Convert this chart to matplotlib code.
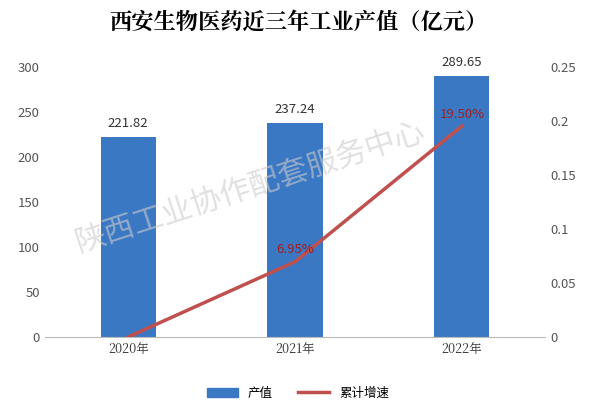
import matplotlib
matplotlib.use("Agg")
import matplotlib.pyplot as plt
from matplotlib.patches import Patch
from matplotlib.lines import Line2D

plt.rcParams['font.family'] = ['Noto Sans CJK SC', 'DejaVu Sans']

years = ["2020年", "2021年", "2022年"]
output = [221.82, 237.24, 289.65]
growth = [0.0, 0.0695, 0.195]
growth_labels = ["", "6.95%", "19.50%"]

fig = plt.figure(figsize=(5.96, 4.16), dpi=100)
ax = fig.add_axes([0.075, 0.19, 0.84, 0.65])
x = range(len(years))
ax.bar(x, output, width=0.33, color="#3B78C3", label="产值")
ax.set_ylim(0, 300)
ax.set_yticks(range(0, 301, 50))
ax.set_xlim(-0.5, 2.5)
ax.set_xticks(list(x))
ax.set_xticklabels(years, fontsize=9, family=['Noto Serif CJK SC', 'Noto Sans CJK SC', 'DejaVu Sans'])
for i, v in enumerate(output):
    ax.text(i, v + 8, f"{v:.2f}", ha="center", va="bottom", fontsize=9.5, color="#333333")
for s in ["top", "left", "right"]:
    ax.spines[s].set_visible(False)
ax.spines["bottom"].set_color("#BBBBBB")
ax.tick_params(axis="y", length=0, labelsize=9.5, colors="#555555")
ax.tick_params(axis="x", length=0, colors="#333333")

ax2 = ax.twinx()
ax2.plot(list(x), growth, color="#C0504D", linewidth=2.5)
ax2.set_ylim(0, 0.25)
ax2.set_yticks([0, 0.05, 0.1, 0.15, 0.2, 0.25])
ax2.set_yticklabels(["0", "0.05", "0.1", "0.15", "0.2", "0.25"])
for s in ["top", "left", "right", "bottom"]:
    ax2.spines[s].set_visible(False)
ax2.tick_params(axis="y", length=0, labelsize=9.5, colors="#555555")
for i, (g, l) in enumerate(zip(growth, growth_labels)):
    if l:
        ax2.text(i, g + 0.005, l, ha="center", va="bottom", fontsize=9.5, color="#A02020")

fig.text(0.42, 0.55, "陕西工业协作配套服务中心", fontsize=22, color="#cccccc", alpha=0.6,
         rotation=18, ha="center", va="center")

fig.text(0.5, 0.945, "西安生物医药近三年工业产值（亿元）", ha="center", va="center",
         fontsize=16, fontweight="bold", family=['Noto Serif CJK SC', 'Noto Sans CJK SC'])

handles = [Patch(color="#3B78C3", label="产值"),
           Line2D([0], [0], color="#C0504D", lw=2.5, label="累计增速")]
fig.legend(handles=handles, loc="center", bbox_to_anchor=(0.5, 0.055), ncol=2,
           frameon=False, fontsize=9, handlelength=2.5)

fig.savefig("out.png", dpi=100)
